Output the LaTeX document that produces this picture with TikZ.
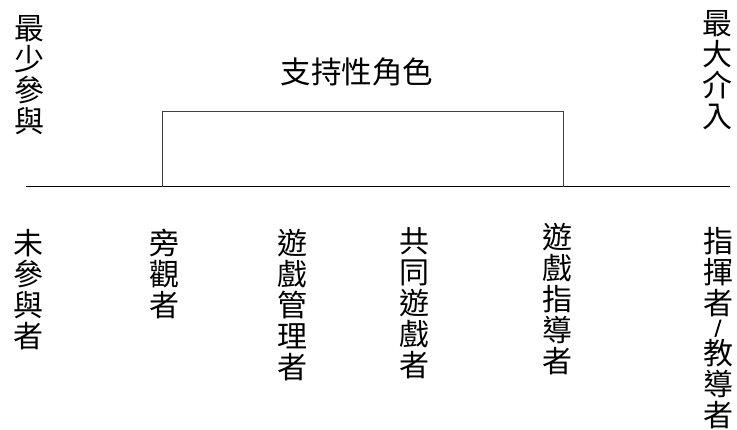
\documentclass[tikz,border=0pt]{standalone}
\usepackage{fontspec}
\newfontfamily\cjk{Noto Sans CJK TC}
\newfontfamily\cjkbold[FakeBold=4]{Noto Sans CJK TC}
\tikzset{
  vtext/.style={inner sep=0pt, align=center, font=\cjk\fontsize{30}{31}\selectfont},
  htext/.style={inner sep=0pt, font=\cjk\fontsize{30.5}{31}\selectfont},
  baseline/.style={draw=black, line width=1pt},
  bracket/.style={draw=black!75, line width=1pt},
}
\begin{document}
\begin{tikzpicture}[x=1pt,y=1pt]
\useasboundingbox (0,0) rectangle (737,430);
% axis
\coordinate (axL) at (26,243);
\coordinate (axR) at (730,243);
\draw[baseline] (axL) -- (axR);
% supporting-role bracket
\coordinate (bL) at (162.5,243);
\coordinate (bLt) at (162.5,318);
\coordinate (bRt) at (563,318);
\coordinate (bR) at (563,243);
\draw[bracket] (bL) -- (bLt) -- (bRt) -- (bR);
\node[htext] (title) at (357,358) {支持性角色};
% ends
\node[vtext] (minp) at (30,355) {最\\少\\參\\與};
\node[vtext] (maxp) at (717,359.5) {最\\大\\介\\入};
% roles
\node[vtext] (r1) at (28,140.5) {未\\參\\與\\者};
\node[vtext] (r2) at (164,156.5) {旁\\觀\\者};
\node[vtext] (r3) at (292.5,125) {遊\\戲\\管\\理\\者};
\node[vtext] (r4) at (414,126.5) {共\\同\\遊\\戲\\者};
\node[vtext] (r5) at (557.5,131) {遊\\戲\\指\\導\\者};
\node[vtext, anchor=north] (r6) at (718,203) {指\\揮\\者\\[-12pt]{\cjkbold\fontsize{17}{17}\selectfont /}\\[0pt]教\\導\\者};
\end{tikzpicture}
\end{document}
